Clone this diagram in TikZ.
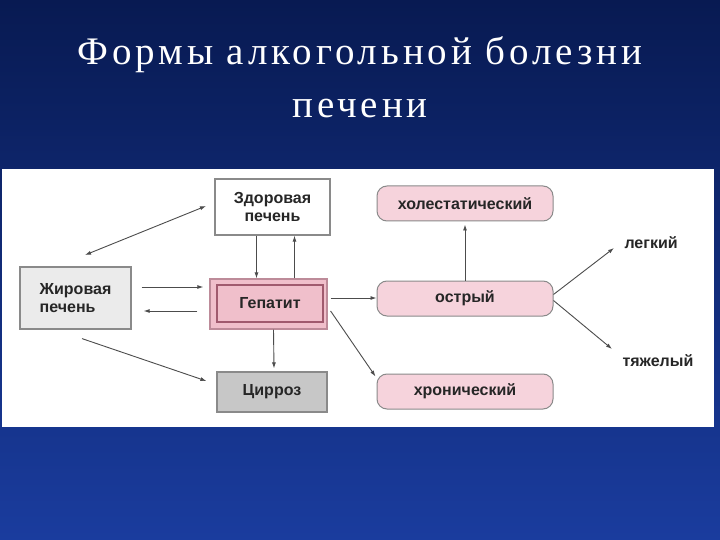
\documentclass[tikz,border=0pt]{standalone}
\usepackage{fontspec}
\setmainfont{Liberation Serif}
\newfontfamily\dsans{Liberation Sans}
\newfontfamily\tserif[LetterSpace=10]{Liberation Serif}
\usetikzlibrary{arrows.meta}
\definecolor{bgtop}{HTML}{081A52}
\definecolor{bgbot}{HTML}{1A3C9E}
\definecolor{pinkf}{HTML}{F6D3DC}
\definecolor{pinkd}{HTML}{F0BFCB}
\definecolor{pinkb}{HTML}{A05A6E}
\definecolor{grayb}{HTML}{8A8A8A}
\begin{document}
\begin{tikzpicture}[x=1pt,y=-1pt,
  lbl/.style={font=\dsans\bfseries\fontsize{16}{18}\selectfont, text=black!85, align=center},
  sqbox/.style={lbl, draw=grayb, line width=1.2pt, inner sep=0pt},
  rbox/.style={lbl, draw=grayb, fill=pinkf, rounded corners=10pt, line width=1pt, minimum width=176pt, minimum height=35pt, inner sep=0pt},
  arr/.style={draw=black!70, line width=0.9pt, -{Latex[length=6pt,width=4pt]}},
  darr/.style={arr, {Latex[length=6pt,width=4pt]}-{Latex[length=6pt,width=4pt]}}]
\useasboundingbox (0,0) rectangle (720,540);
\shade[top color=bgtop, bottom color=bgbot] (0,0) rectangle (720,540);
\fill[white] (2,169) rectangle (714,427);
\node[text=white, font=\tserif\fontsize{39}{53}\selectfont, align=center] (title) at (360,77) {Формы алкогольной болезни\\печени};
\node[sqbox, fill=white, minimum width=115pt, minimum height=56pt] (zd) at (272.5,207) {Здоровая\\печень};
\node[sqbox, fill=black!8, minimum width=111pt, minimum height=62pt, align=left] (zh) at (75.5,298) {Жировая\\печень};
\node[draw=pinkb!70, fill=pinkd, line width=1.2pt, minimum width=117pt, minimum height=50pt] (gepo) at (268.5,304) {};
\node[sqbox, draw=pinkb, fill=pinkd, minimum width=106pt, minimum height=37pt] (gep) at (270,303.5) {Гепатит};
\node[sqbox, fill=black!22, minimum width=110pt, minimum height=40pt] (cir) at (272,392) {Цирроз};
\node[rbox] (hol) at (465,203.5) {холестатический};
\node[rbox] (ost) at (465,298.5) {острый};
\node[rbox] (hron) at (465,391.5) {хронический};
\node[lbl, anchor=west] (leg) at (621,243) {легкий};
\node[lbl, anchor=west] (tyaz) at (619,361) {тяжелый};
\coordinate (zdl) at (206,206);
\coordinate (zht) at (85,255);
\draw[darr] (zdl) -- (zht);
\draw[arr] ([xshift=-16pt]zd.south) -- ([xshift=-12pt]gepo.north);
\draw[arr] ([xshift=26pt]gepo.north) -- ([xshift=22pt]zd.south);
\draw[arr] ([xshift=10pt,yshift=11pt]zh.east) -- ([xshift=-6pt,yshift=17pt]gepo.west);
\draw[arr] ([xshift=-12pt,yshift=-7pt]gepo.west) -- ([xshift=12pt,yshift=-13pt]zh.east);
\draw[arr] ([xshift=6.5pt,yshift=-9pt]zh.south) -- ([xshift=-10pt,yshift=11pt]cir.west);
\draw[arr] ([xshift=5pt]gepo.south) -- ([xshift=2pt,yshift=3pt]cir.north);
\draw[arr] ([xshift=3pt,yshift=6pt]gepo.east) -- ([yshift=0.5pt]ost.west);
\draw[arr] ([xshift=3pt,yshift=-7pt]gepo.east) -- ([xshift=-1pt,yshift=15pt]hron.west);
\draw[arr] (ost.north) -- ([yshift=-3pt]hol.south);
\draw[arr] ([yshift=4pt]ost.east) -- ([xshift=-7pt,yshift=-5pt]leg.west);
\draw[arr] ([yshift=-2pt]ost.east) -- ([xshift=-7pt,yshift=12pt]tyaz.west);
\end{tikzpicture}
\end{document}
